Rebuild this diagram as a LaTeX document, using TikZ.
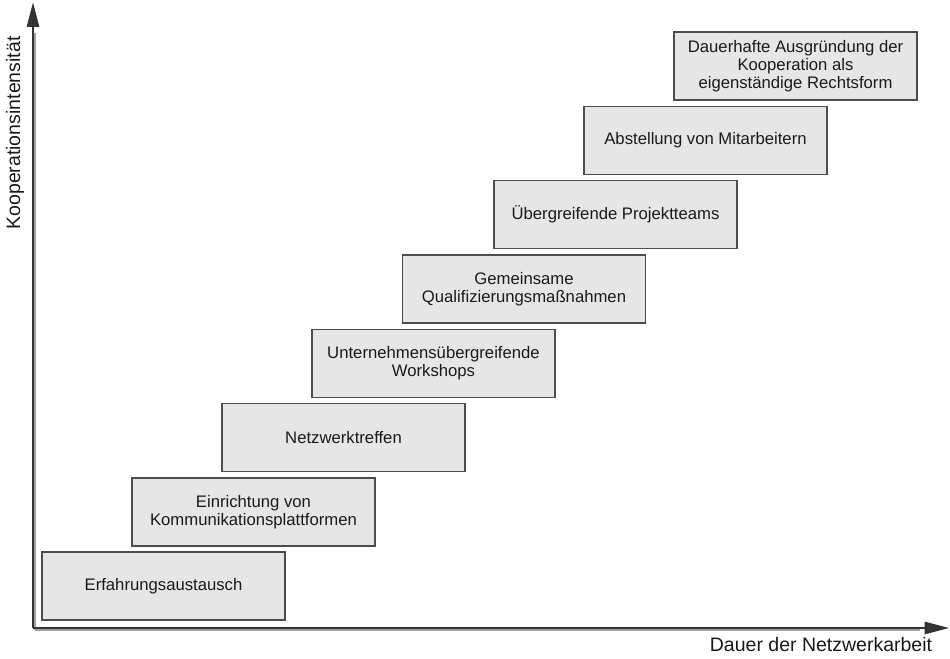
\documentclass[tikz,border=0pt]{standalone}
\usepackage{fontspec}
\setmainfont{Liberation Sans}
\usepackage{xcolor}
\usepackage{tikz}
\usetikzlibrary{arrows.meta, positioning}
\definecolor{axisgrey}{HTML}{333333}
\definecolor{shadegrey}{HTML}{A0A0A0}
\definecolor{boxfill}{HTML}{E6E6E6}
\definecolor{boxline}{HTML}{4D4D4D}
\definecolor{labeltext}{HTML}{1A1A1A}

\tikzset{
  stage/.style={draw=boxline, fill=boxfill, line width=0.6pt,
    minimum width=4.86cm, minimum height=1.36cm, inner sep=2pt,
    align=center, text=labeltext, font=\fontsize{9.5}{10.4}\selectfont},
  axislabel/.style={text=labeltext, font=\fontsize{11.1}{13}\selectfont, inner sep=0pt},
  axisline/.style={axisgrey, line width=1.7pt, -{Triangle[length=0.5cm, width=0.24cm]}}
}

\begin{document}
\begin{tikzpicture}[x=1cm, y=1cm]
\useasboundingbox (0,0) rectangle (19.0,13.16);
% axes
\coordinate (origin) at (0.66,0.60);
\coordinate (ytop) at (0.66,13.12);
\coordinate (xend) at (18.99,0.60);
\draw[shadegrey, line width=1.7pt] ([xshift=0.04cm, yshift=-0.04cm]origin) -- ([xshift=0.04cm]0.66,12.5);
\draw[shadegrey, line width=1.7pt] ([xshift=0.04cm, yshift=-0.04cm]origin) -- ([yshift=-0.04cm]18.4,0.60);
\draw[axisline] (origin) -- (ytop);
\draw[axisline] (origin) -- (xend);
\node[axislabel, rotate=90] (ylab) at (0.30,10.50) {Kooperationsintensität};
\node[axislabel] (xlab) at (16.42,0.26) {Dauer der Netzwerkarbeit};
% stages
\node[stage] (s1) at (3.27,1.44) {Erfahrungsaustausch};
\node[stage] (s2) at (5.07,2.92) {Einrichtung von\\Kommunikationsplattformen};
\node[stage] (s3) at (6.87,4.41) {Netzwerktreffen};
\node[stage] (s4) at (8.67,5.89) {Unternehmensübergreifende\\Workshops};
\node[stage] (s5) at (10.48,7.38) {Gemeinsame\\Qualifizierungsmaßnahmen};
\node[stage] (s6) at (12.31,8.87) {Übergreifende Projektteams};
\node[stage] (s7) at (14.11,10.35) {Abstellung von Mitarbeitern};
\node[stage] (s8) at (15.91,11.84) {Dauerhafte Ausgründung der\\Kooperation als\\eigenständige Rechtsform};
\end{tikzpicture}
\end{document}
